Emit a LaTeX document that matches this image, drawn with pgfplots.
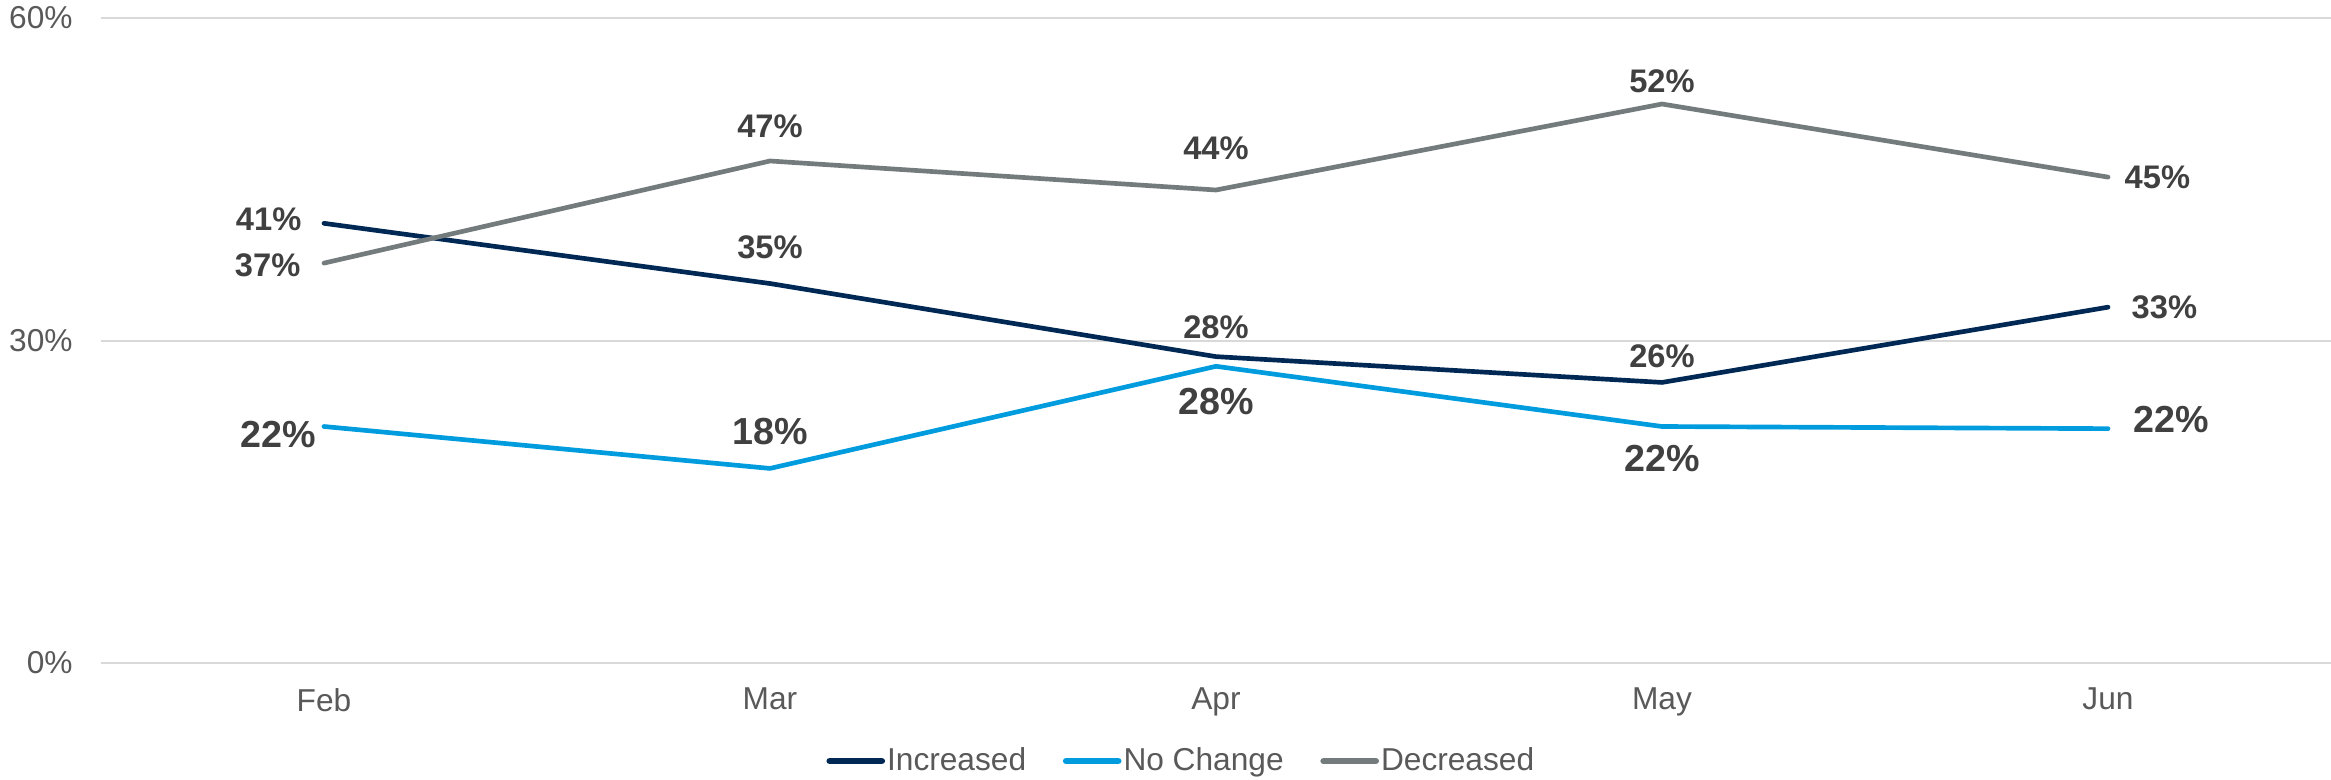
\documentclass[border=0pt]{standalone}
\usepackage{pgfplots}
\pgfplotsset{compat=1.18}
\usepackage{pgfplotstable}
\usepackage{fontspec}
\setmainfont{Liberation Sans}
\definecolor{incc}{HTML}{002855}
\definecolor{nocc}{HTML}{009CDE}
\definecolor{decc}{HTML}{737B7C}
\definecolor{labc}{HTML}{404040}
\definecolor{tickc}{HTML}{595959}
\definecolor{gridc}{HTML}{D9D9D9}

\pgfplotstableread{
x y lab
0 40.9 41
1 35.3 35
2 28.5 28
3 26.1 26
4 33.1 33
}\increased
\pgfplotstableread{
x y lab
0 22.0 22
1 18.1 18
2 27.6 28
3 22.0 22
4 21.8 22
}\nochange
\pgfplotstableread{
x y lab
0 37.2 37
1 46.7 47
2 44.0 44
3 52.0 52
4 45.2 45
}\decreased

\pgfplotsset{
  lbls/.style={
    point meta=explicit symbolic,
    nodes near coords={\pgfplotspointmeta\%},
    every node near coord/.append style={font=\bfseries\fontsize{#1}{13}\selectfont, text=labc},
  },
  ln/.style={line width=1.4pt, line cap=round, line join=round, mark=none, forget plot},
}

\begin{document}
\begin{tikzpicture}
\path[use as bounding box] (0,0) rectangle (699.3pt,233.7pt);
\begin{axis}[
  at={(30.3pt,34.8pt)}, anchor=south west,
  scale only axis,
  width=669pt, height=193.5pt,
  xmin=-0.5, xmax=4.5,
  ymin=0, ymax=60,
  xtick={0,1,2,3,4},
  xticklabels={Feb,Mar,Apr,May,Jun},
  ytick={0,30,60},
  yticklabels={0\%,30\%,60\%},
  major tick length=0pt,
  axis line style={draw=none},
  ymajorgrids,
  grid style={gridc, line width=0.6pt},
  tick label style={font=\fontsize{9.5}{11}\selectfont, text=tickc},
  yticklabel style={xshift=-5pt},
  xticklabel style={yshift=-4pt},
  clip=false,
  legend style={at={(0.484,-0.152)}, anchor=center, draw=none, fill=none,
    legend columns=3, font=\fontsize{9.5}{11}\selectfont, text=tickc,
    /tikz/every odd column/.append style={column sep=0.6pt},
    /tikz/every even column/.append style={column sep=11pt},
    nodes={inner sep=0pt},
    inner sep=0pt},
  legend image code/.code={\draw[#1, line width=2pt, line cap=round] (0.6pt,0pt) -- (16.2pt,0pt);},
]
\addlegendimage{incc}
\addlegendentry{Increased}
\addlegendimage{nocc}
\addlegendentry{No Change}
\addlegendimage{decc}
\addlegendentry{Decreased}
\addplot[incc, ln, lbls=9.8,
  coordinate style/.condition={\coordindex==0}{anchor=east, inner sep=6.1pt, yshift=1.2pt},
  coordinate style/.condition={\coordindex==1}{anchor=south, inner sep=6.3pt, yshift=0.4pt},
  coordinate style/.condition={\coordindex==2}{anchor=south, inner sep=6.3pt, yshift=-1.8pt},
  coordinate style/.condition={\coordindex==3}{anchor=south, inner sep=6.3pt, yshift=-2.7pt},
  coordinate style/.condition={\coordindex==4}{anchor=west, inner sep=6.4pt},
] table[x=x,y=y,meta=lab] {\increased};
\addplot[nocc, ln, lbls=11.3,
  coordinate style/.condition={\coordindex==0}{anchor=east, inner sep=1.6pt, yshift=-2.4pt},
  coordinate style/.condition={\coordindex==1}{anchor=south, inner sep=6.4pt},
  coordinate style/.condition={\coordindex==2}{anchor=north, inner sep=5.9pt},
  coordinate style/.condition={\coordindex==3}{anchor=north, inner sep=5pt},
  coordinate style/.condition={\coordindex==4}{anchor=west, inner sep=7pt, yshift=2.7pt},
] table[x=x,y=y,meta=lab] {\nochange};
\addplot[decc, ln, lbls=9.8,
  coordinate style/.condition={\coordindex==0}{anchor=east, inner sep=6.4pt, yshift=-0.6pt},
  coordinate style/.condition={\coordindex==1}{anchor=south, inner sep=6.3pt},
  coordinate style/.condition={\coordindex==2}{anchor=south, inner sep=6.3pt, yshift=2.2pt},
  coordinate style/.condition={\coordindex==3}{anchor=south, inner sep=6.3pt, yshift=-3.6pt},
  coordinate style/.condition={\coordindex==4}{anchor=west, inner sep=4.3pt},
] table[x=x,y=y,meta=lab] {\decreased};
\end{axis}
\end{tikzpicture}
\end{document}
